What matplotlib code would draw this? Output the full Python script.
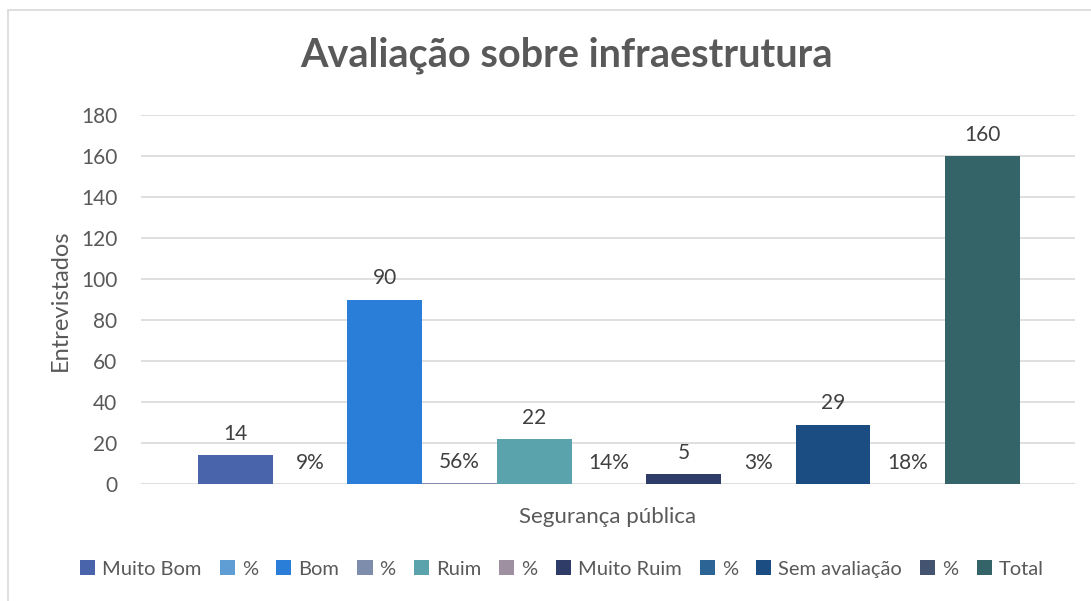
import matplotlib.pyplot as plt
from matplotlib.patches import Rectangle

# data
category = "Segurança pública"
series_names = ['Muito Bom', '%', 'Bom', '%', 'Ruim', '%',
                'Muito Ruim', '%', 'Sem avaliação', '%', 'Total']
series_values = [14, 0.09, 90, 0.56, 22, 0.14, 5, 0.03, 29, 0.18, 160]
series_labels = ['14', '9%', '90', '56%', '22', '14%',
                 '5', '3%', '29', '18%', '160']
y_ticks = [0, 20, 40, 60, 80, 100, 120, 140, 160, 180]

colors = ['#4964AB', '#5F9DD5', '#2A7ED8', '#7E8DAB', '#5AA3AD', '#9E8FA1',
          '#2E3C67', '#2C6496', '#1B4C82', '#44536F', '#356468']

plt.rcParams['font.family'] = ['Lato', 'DejaVu Sans']

fig = plt.figure(figsize=(10.91, 6.01), dpi=100)
ax = fig.add_axes([141 / 1091, 1 - 484 / 601, 934 / 1091, (484 - 115) / 601])

# chart border (only top/left fall inside the cropped image)
fig.patches.append(Rectangle((8 / 1091, -0.05), 1.2, 1 - 10 / 601 + 0.05,
                             transform=fig.transFigure, fill=False,
                             edgecolor='#D9D9D9', linewidth=1.2))

positions = list(range(len(series_values)))
for i, (name, val, lab, col) in enumerate(zip(series_names, series_values,
                                              series_labels, colors)):
    ax.bar(positions[i], val, width=1.0, color=col, label=name, zorder=3)
    ax.annotate(lab, (positions[i], val), xytext=(0, 8),
                textcoords='offset points', ha='center', va='bottom',
                fontsize=15, color='#404040')

ax.set_xlim(-1.263, 11.237)
ax.set_ylim(0, 180)
ax.set_yticks(y_ticks)
ax.set_xticks([])
ax.tick_params(axis='y', length=0, labelsize=15, labelcolor='#595959', pad=17)
for s in ax.spines.values():
    s.set_visible(False)
ax.grid(axis='y', color='#D9D9D9', linewidth=1.2, zorder=0)
ax.set_axisbelow(True)

fig.text(60 / 1091, 1 - 300 / 601, 'Entrevistados', rotation=90,
         ha='center', va='center', fontsize=17, color='#595959')
fig.text(608 / 1091, 1 - 517 / 601, category, ha='center', va='center',
         fontsize=16, color='#595959')

fig.suptitle('Avaliação sobre infraestrutura', x=566 / 1091, y=1 - 55 / 601,
             va='center', fontsize=28.5, fontweight='bold', color='#595959')

fig.legend(loc='center', bbox_to_anchor=(562 / 1091, 1 - 569 / 601), ncol=11,
           frameon=False, fontsize=14.5, labelcolor='#595959',
           handlelength=0.75, handleheight=0.75, handletextpad=0.35,
           columnspacing=0.9, borderpad=0)

fig.savefig('out.png', dpi=100)
